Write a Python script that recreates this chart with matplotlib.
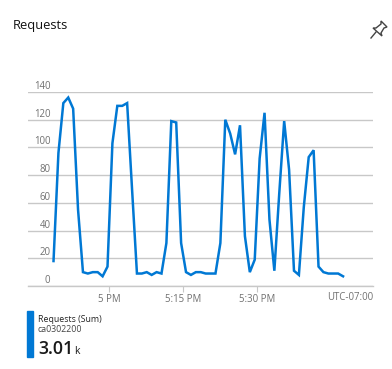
import numpy as np
import matplotlib.pyplot as plt
from matplotlib.patches import Polygon, Rectangle
from matplotlib.lines import Line2D

plt.rcParams['font.family'] = ['Open Sans', 'DejaVu Sans']

# Datos, un punto por minuto
requests = [18, 96, 132, 136, 128, 55, 10, 9, 10, 10,
            7, 14, 103, 130, 130, 132, 70, 9, 9, 10,
            8, 10, 9, 31, 119, 118, 31, 10, 8, 10,
            10, 9, 9, 9, 31, 120, 110, 95, 116, 36,
            10, 19, 92, 125, 48, 11, 67, 119, 84, 11,
            8, 57, 93, 98, 14, 10, 9, 9, 9, 7]
first_minute = -11.4  # minutos respecto a las 5 PM
minutes = first_minute + np.arange(len(requests))
y_ticks = [0, 20, 40, 60, 80, 100, 120, 140]
x_ticks = [0, 15, 30]
x_labels = ['5 PM', '5:15 PM', '5:30 PM']

W, H = 392, 369
blue = '#0078d4'
gray = '#707070'
grid = '#c8c8c8'

fig = plt.figure(figsize=(W/100, H/100), dpi=100)
ax = fig.add_axes([28/W, 1-286/H, 345/W, 194/H])
ax.plot(minutes, requests, color=blue, linewidth=1.8, solid_joinstyle='miter', clip_on=False)
ax.set_xlim(-16.6, 53.7)
ax.set_ylim(0, 140)
ax.set_yticks(y_ticks)
ax.set_xticks(x_ticks)
ax.set_xticklabels(x_labels, fontsize=6.9, color=gray)
ax.set_yticklabels([])
ax.tick_params(axis='y', length=0)
ax.tick_params(axis='x', length=4, width=0.8, color=grid, pad=2)
ax.grid(True, axis='y', color=grid, linewidth=1)
ax.set_axisbelow(True)
for s in ['top', 'left', 'right']:
    ax.spines[s].set_visible(False)
ax.spines['bottom'].set_color(grid)
ax.spines['bottom'].set_linewidth(1)

# etiquetas del eje y, encima de cada linea
for v in y_ticks:
    ax.annotate(str(v), (0, v), xycoords=('axes fraction', 'data'), xytext=(22.5/1.389, 4),
                textcoords='offset points', ha='right', va='center',
                fontsize=6.9, color=gray)

def ftext(x, y, s, **kw):
    fig.text(x/W, 1-y/H, s, va='center', **kw)

ftext(13, 25, 'Requests', fontsize=9.3, color='#111111', fontweight='medium')
ftext(373, 297, 'UTC-07:00', fontsize=6.9, color=gray, ha='right')

# leyenda
fig.add_artist(Rectangle((27/W, 1-357/H), 6/W, 46/H, color=blue, transform=fig.transFigure))
ftext(38, 319, 'Requests (Sum)', fontsize=6.3, color='#222222')
ftext(38, 329.5, 'ca0302200', fontsize=6.3, color='#444444')
ftext(38, 348.5, '3.01', fontsize=12.8, color='#1a1a1a', fontweight='semibold')
ftext(74, 351, 'k', fontsize=7.5, color='#1a1a1a')

# icono de chincheta
pin = [(381, 21), (387, 27), (384, 28), (381, 33), (382, 36), (373, 28), (376, 28), (381, 24)]
pin = [(x/W, 1-y/H) for x, y in pin]
fig.add_artist(Polygon(pin, closed=True, fill=False, edgecolor='#444444', linewidth=1,
                       transform=fig.transFigure))
fig.add_artist(Line2D([376/W, 371/W], [1-32/H, 1-38/H], color='#444444', linewidth=1,
                      transform=fig.transFigure))

fig.savefig('out.png', dpi=100)
